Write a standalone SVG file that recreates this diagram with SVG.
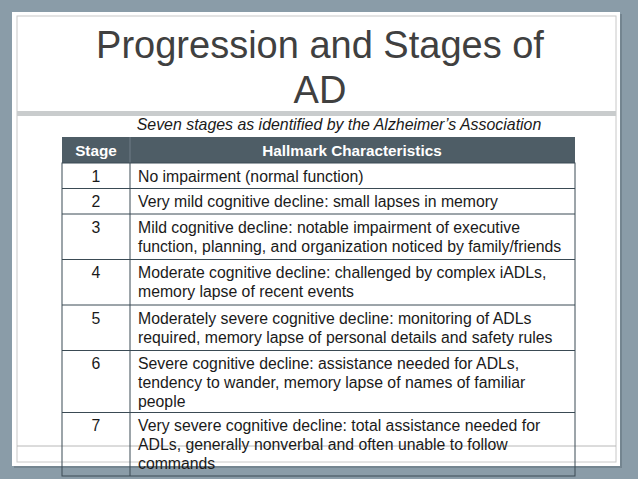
<svg xmlns="http://www.w3.org/2000/svg" width="638" height="479" viewBox="0 0 638 479">
<style>
text{font-family:"Liberation Sans",Arial,sans-serif}
.t{font-size:15.8px;fill:#1a1a1a}
.c{text-anchor:middle}
.l{stroke:#3a4a54;stroke-width:1;fill:none}
</style>
<rect width="638" height="479" fill="#8a9ca8"/>
<rect x="14" y="14" width="608" height="454" fill="#5d6e78" opacity="0.5"/>
<rect x="12" y="12" width="608" height="454" fill="#ffffff"/>
<rect x="17" y="16" width="599" height="446" fill="none" stroke="#c8c8c8" stroke-width="1"/>
<rect x="17" y="111" width="599" height="5" fill="#c9cccd"/>
<line x1="17" y1="446" x2="616" y2="446" stroke="#b8b8b8"/>
<g id="title" fill="#404040" font-size="38" text-anchor="middle">
<text x="320" y="58">Progression and Stages of</text>
<text x="320" y="103">AD</text>
</g>
<text x="339" y="130" font-size="15.9" font-style="italic" text-anchor="middle" fill="#1a1a1a">Seven stages as identified by the Alzheimer’s Association</text>
<g id="table">
<rect x="62" y="137" width="513" height="26" fill="#4e5d66"/>
<line x1="130" y1="137" x2="130" y2="163" stroke="#6f7d86"/>
<text x="96" y="156" class="c" font-size="15.3" font-weight="bold" fill="#fff">Stage</text>
<text x="352" y="156" class="c" font-size="15.3" font-weight="bold" fill="#fff">Hallmark Characteristics</text>
<rect x="62" y="163" width="513" height="313" class="l"/>
<line x1="130" y1="163" x2="130" y2="476" class="l"/>
<g class="l"><line x1="62" y1="188.5" x2="575" y2="188.5"/><line x1="62" y1="214" x2="575" y2="214"/><line x1="62" y1="259.5" x2="575" y2="259.5"/><line x1="62" y1="305" x2="575" y2="305"/><line x1="62" y1="350.5" x2="575" y2="350.5"/><line x1="62" y1="412.5" x2="575" y2="412.5"/></g>
<g class="t">
<text x="96" y="182" class="c">1</text><text x="138" y="182">No impairment (normal function)</text>
<text x="96" y="207" class="c">2</text><text x="138" y="207">Very mild cognitive decline: small lapses in memory</text>
<text x="96" y="233" class="c">3</text><text x="138" y="233">Mild cognitive decline: notable impairment of executive</text><text x="138" y="252">function, planning, and organization noticed by family/friends</text>
<text x="96" y="278" class="c">4</text><text x="138" y="278">Moderate cognitive decline: challenged by complex iADLs,</text><text x="138" y="297">memory lapse of recent events</text>
<text x="96" y="324" class="c">5</text><text x="138" y="324">Moderately severe cognitive decline: monitoring of ADLs</text><text x="138" y="343">required, memory lapse of personal details and safety rules</text>
<text x="96" y="369" class="c">6</text><text x="138" y="369">Severe cognitive decline: assistance needed for ADLs,</text><text x="138" y="388">tendency to wander, memory lapse of names of familiar</text><text x="138" y="407">people</text>
<text x="96" y="431" class="c">7</text><text x="138" y="431">Very severe cognitive decline: total assistance needed for</text><text x="138" y="450">ADLs, generally nonverbal and often unable to follow</text><text x="138" y="469">commands</text>
</g>
</g>
</svg>
